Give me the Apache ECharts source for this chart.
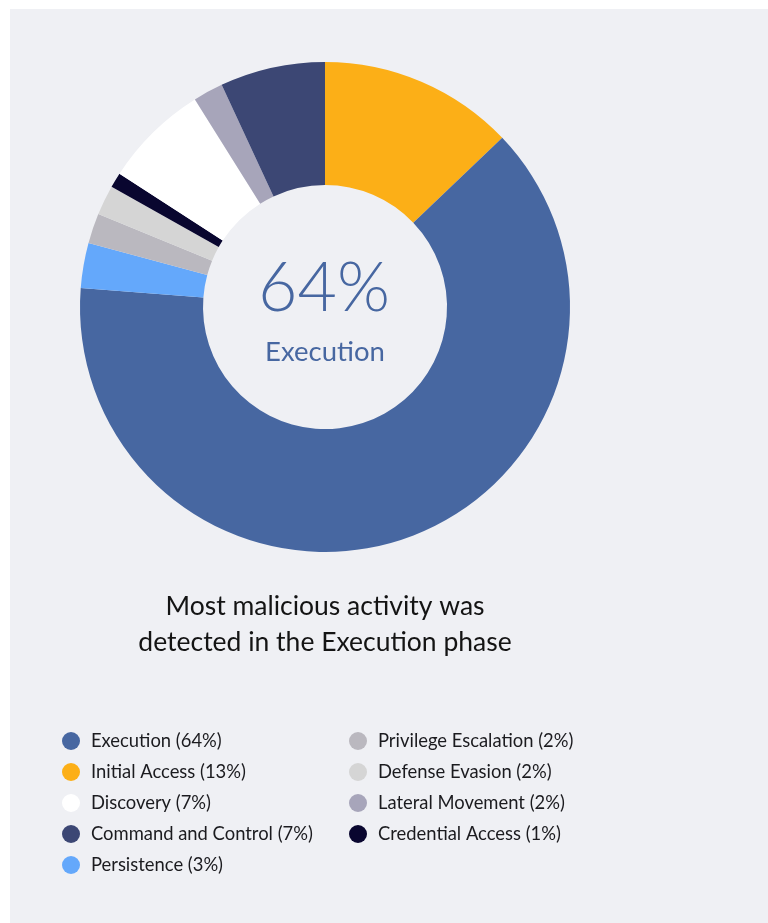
<!DOCTYPE html>
<html>
<head>
<meta charset="utf-8">
<script src="https://cdn.jsdelivr.net/npm/echarts@6/dist/echarts.min.js"></script>
<style>
  html, body { margin: 0; padding: 0; background: #fff; }
  .panel { position: absolute; left: 10px; top: 9px; width: 758px; height: 914px; background: #eff0f4; }
  #chart { position: absolute; left: 0; top: 0; width: 768px; height: 923px; }
</style>
</head>
<body>
<div class="panel"></div>
<div id="chart"></div>
<script>
// slices in clockwise order from 12 o'clock
const phases = ['Initial Access', 'Execution', 'Persistence', 'Privilege Escalation', 'Defense Evasion',
  'Credential Access', 'Discovery', 'Lateral Movement', 'Command and Control']
const shares = [13, 64, 3, 2, 2, 1, 7, 2, 7]
const colors = ['#fcaf17', '#4767a1', '#64a8fb', '#bab8bf', '#d5d5d5', '#09062f', '#ffffff', '#a7a5ba', '#3c4774']
// legend columns
const legendLeft = ['Execution', 'Initial Access', 'Discovery', 'Command and Control', 'Persistence']
const legendRight = ['Privilege Escalation', 'Defense Evasion', 'Lateral Movement', 'Credential Access']

const shareOf = {}
phases.forEach((p, i) => { shareOf[p] = shares[i] })

const myChart = echarts.init(document.getElementById('chart'))

const legendBase = {
  orient: 'vertical',
  top: 732,
  padding: 0,
  icon: 'circle',
  itemWidth: 18,
  itemHeight: 18,
  itemGap: 13,
  textStyle: { fontFamily: 'Lato', fontSize: 18.4, color: '#1b1b1f', padding: [0, 0, 0, 6] },
  formatter: name => name + ' (' + shareOf[name] + '%)',
  selectedMode: false
}

myChart.setOption({
  color: colors,
  title: [
    {
      text: 'Most malicious activity was\ndetected in the Execution phase',
      left: 325,
      textAlign: 'center',
      top: 588,
      padding: 0,
      textStyle: { fontFamily: 'Lato', fontSize: 26.5, fontWeight: 'normal', color: '#141414', lineHeight: 36 }
    },
    {
      text: '64%',
      left: 324,
      textAlign: 'center',
      top: 255,
      padding: 0,
      textStyle: { fontFamily: 'Lato', fontSize: 68, fontWeight: 300, color: '#4767a1' }
    },
    {
      text: 'Execution',
      left: 325,
      textAlign: 'center',
      top: 338,
      padding: 0,
      textStyle: { fontFamily: 'Lato', fontSize: 27.5, fontWeight: 'normal', color: '#4767a1' }
    }
  ],
  legend: [
    Object.assign({}, legendBase, { left: 62, data: legendLeft }),
    Object.assign({}, legendBase, { left: 349, data: legendRight })
  ],
  series: [
    {
      type: 'pie',
      center: [325, 307],
      radius: [122, 245],
      startAngle: 90,
      clockwise: true,
      silent: true,
      label: { show: false },
      labelLine: { show: false },
      itemStyle: { borderWidth: 0 },
      data: phases.map((p, i) => ({ name: p, value: shares[i] }))
    }
  ]
})
</script>
</body>
</html>
